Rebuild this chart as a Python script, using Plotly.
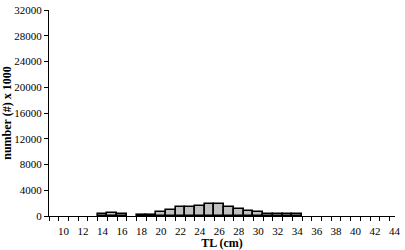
import plotly.graph_objects as go

lengths_cm = list(range(9, 45))
counts_thousands = [None, None, None, None, None, 250, 400, 250, None, 200, 200, 600, 1000, 1350, 1350,
                    1550, 1900, 1800, 1420, 1050, 800, 650, 350, 350, 250, 250,
                    None, None, None, None, None, None, None, None, None, None]
x_tick_vals = list(range(10, 45, 2))
y_tick_vals = list(range(0, 32001, 4000))

font_family = "Liberation Serif, Times New Roman, serif"

fig = go.Figure()
fig.add_trace(go.Bar(
    x=lengths_cm,
    y=counts_thousands,
    width=1,
    marker=dict(color="#c0c0c0", line=dict(color="black", width=1.6)),
))

fig.update_layout(
    width=405, height=250,
    margin=dict(l=49, r=4, t=4, b=34),
    paper_bgcolor="white", plot_bgcolor="white",
    showlegend=False,
    bargap=0,
    font=dict(family=font_family, color="black", size=11),
)
fig.update_xaxes(
    range=[8.5, 44.05],
    tickmode="array", tickvals=x_tick_vals,
    ticktext=[str(v) for v in x_tick_vals],
    ticks="outside", ticklen=0, tickcolor="black",
    ticklabelstandoff=5,
    ticklabeloverflow="allow",
    minor=dict(tickmode="array", tickvals=[v + 0.5 for v in range(8, 44)],
               ticks="outside", ticklen=4, tickcolor="black", tickwidth=1),
    showline=True, linecolor="black", linewidth=1,
    showgrid=False, zeroline=False,
    tickfont=dict(size=11),
    title=dict(text="<b>TL (cm)</b>", font=dict(size=12), standoff=0),
)
fig.update_yaxes(
    range=[0, 32000],
    tickmode="array", tickvals=y_tick_vals,
    ticktext=[str(v) for v in y_tick_vals],
    ticks="outside", ticklen=4, tickcolor="black",
    ticklabeloverflow="allow",
    showline=True, linecolor="black", linewidth=1,
    showgrid=False, zeroline=False,
    tickfont=dict(size=11),
    title=dict(text="<b>number (#) x 1000</b>", font=dict(size=12), standoff=2),
)

fig.write_html("out.html")
